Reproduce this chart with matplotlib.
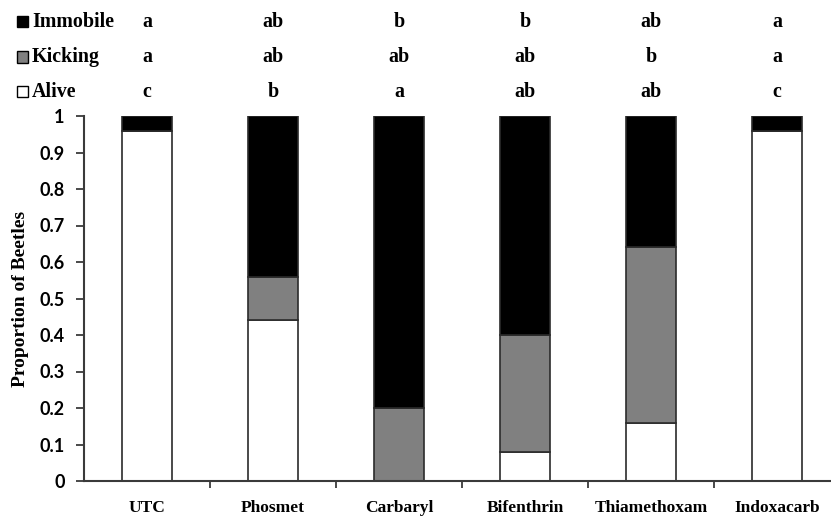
import matplotlib
matplotlib.use("Agg")
import matplotlib.pyplot as plt
import matplotlib.transforms as mtrans
from matplotlib.patches import Rectangle
import numpy as np

categories = ["UTC", "Phosmet", "Carbaryl", "Bifenthrin", "Thiamethoxam", "Indoxacarb"]
alive = [0.96, 0.44, 0.00, 0.08, 0.16, 0.96]
kicking = [0.00, 0.12, 0.20, 0.32, 0.48, 0.00]
immobile = [0.04, 0.44, 0.80, 0.60, 0.36, 0.04]
letters_immobile = ["a", "ab", "b", "b", "ab", "a"]
letters_kicking = ["a", "ab", "ab", "ab", "b", "a"]
letters_alive = ["c", "b", "a", "ab", "ab", "c"]
yticks = [0, 0.1, 0.2, 0.3, 0.4, 0.5, 0.6, 0.7, 0.8, 0.9, 1]
ytick_labels = ["0", "0.1", "0.2", "0.3", "0.4", "0.5", "0.6", "0.7", "0.8", "0.9", "1"]

W, H = 831, 517
fig = plt.figure(figsize=(W / 100, H / 100), dpi=100)
left, right = 84 / W, 840 / W
bottom, top = (H - 481) / H, (H - 116) / H
ax = fig.add_axes([left, bottom, right - left, top - bottom])

x = np.arange(len(categories))
edge = "#2b2b2b"
bw = 0.4
ax.bar(x, alive, bw, color="white", edgecolor=edge, linewidth=1.2)
ax.bar(x, kicking, bw, bottom=alive, color="#808080", edgecolor=edge, linewidth=1.2)
bot2 = [a + k for a, k in zip(alive, kicking)]
ax.bar(x, immobile, bw, bottom=bot2, color="black", edgecolor=edge, linewidth=1.2)

ax.set_xlim(-0.5, len(categories) - 0.5)
ax.set_ylim(0, 1)
ax.spines["top"].set_visible(False)
ax.spines["right"].set_visible(False)
for s in ["left", "bottom"]:
    ax.spines[s].set_color("#3a3a3a")
    ax.spines[s].set_linewidth(1.5)

ax.set_yticks(yticks)
ax.set_yticklabels(ytick_labels, fontfamily="Lato", fontweight="bold", fontsize=13)
ax.tick_params(axis="y", direction="out", length=6, width=1.3, color="#3a3a3a", pad=8)

ax.set_xticks(x)
ax.set_xticklabels(categories, fontfamily="Liberation Serif", fontweight="bold", fontsize=12.5)
ax.set_xticks(np.arange(0.5, len(categories) - 0.5, 1), minor=True)
ax.tick_params(axis="x", which="major", length=0, pad=14)
ax.tick_params(axis="x", which="minor", direction="out", length=5, width=1.3, color="#3a3a3a")

ax.set_ylabel("Proportion of Beetles", fontfamily="Liberation Serif", fontweight="bold",
              fontsize=14)
ax.yaxis.set_label_coords(21 / W, 0.5 * (bottom + top), transform=fig.transFigure)
ax.yaxis.label.set_va("center")

# legend-like labels with significance letters
tr = mtrans.blended_transform_factory(ax.transData, fig.transFigure)
rows = [("Immobile", "black", letters_immobile, 22),
        ("Kicking", "#808080", letters_kicking, 57),
        ("Alive", "white", letters_alive, 92)]
for name, col, lets, ypix in rows:
    yf = 1 - ypix / H
    sq = 11
    fig.patches.append(Rectangle((17 / W, yf - sq / 2 / H), sq / W, sq / H,
                                 transform=fig.transFigure, facecolor=col,
                                 edgecolor="black", linewidth=1.0))
    fig.text(32 / W, yf, name, fontfamily="Liberation Serif", fontweight="bold",
             fontsize=14.4, va="center", ha="left")
    for xi, l in zip(x, lets):
        ax.text(xi, yf, l, transform=tr, fontfamily="Liberation Serif", fontweight="bold",
                fontsize=14.4, va="center", ha="center")

fig.savefig("out.png", dpi=100)
